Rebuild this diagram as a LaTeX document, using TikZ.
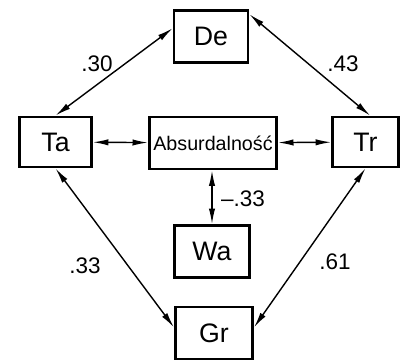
\documentclass[tikz,border=0pt]{standalone}
\usepackage{fontspec}
\setmainfont{Liberation Sans}
\usetikzlibrary{arrows.meta}

\begin{document}
\begin{tikzpicture}[x=0.025cm, y=-0.025cm,
	box/.style={draw, line width=2pt, inner sep=0pt, minimum width=1.85cm, minimum height=1.28cm, font=\fontsize{19}{20}\selectfont},
	link/.style={{Latex[length=11pt,width=4.5pt]}-{Latex[length=11pt,width=4.5pt]}, line width=1pt},
	num/.style={font=\fontsize{16}{17}\selectfont}]

	\useasboundingbox (0,0) rectangle (401,362);

	% draw boxes
	\node[box] (de) at (211,36.5) {De};
	\node[box, minimum width=1.8cm, minimum height=1.25cm] (ta) at (55.5,142) {Ta};
	\node[box, minimum width=3.18cm, minimum height=1.3cm, font=\fontsize{14}{15}\selectfont] (abs) at (213,143) {Absurdalność};
	\node[box, minimum width=1.65cm, minimum height=1.25cm] (tr) at (365.5,142) {Tr};
	\node[box, minimum width=1.88cm, minimum height=1.3cm] (wa) at (212,251.5) {Wa};
	\node[box, minimum width=1.93cm, minimum height=1.3cm] (gr) at (214,333) {Gr};

	% draw edges
	\draw[link] (ta.north) -- (de.168);
	\draw[link] (de.30) -- (tr.80);
	\draw[link] (ta) -- (abs);
	\draw[link] (abs) -- (tr);
	\draw[link] (abs.south -| wa.north) -- (wa.north);
	\draw[link] (ta.south) -- (gr.172);
	\draw[link] (tr.south) -- (gr.8);

	% draw weights
	\node[num] (w_de_ta) at (97,64) {.30};
	\node[num] (w_de_tr) at (343,64) {.43};
	\node[num] (w_abs_wa) at (243,199) {--.33};
	\node[num] (w_ta_gr) at (85,266) {.33};
	\node[num] (w_tr_gr) at (335,262) {.61};

\end{tikzpicture}
\end{document}
